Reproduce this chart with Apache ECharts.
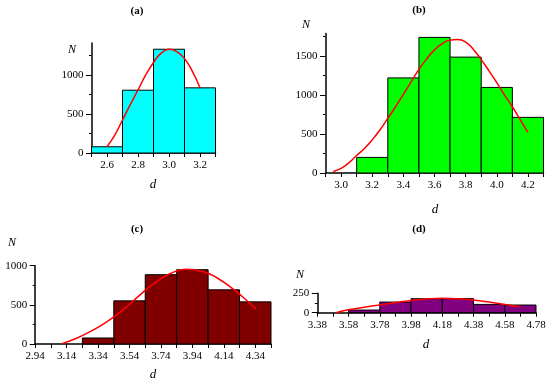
<!DOCTYPE html>
<html><head><meta charset="utf-8">
<script src="https://cdn.jsdelivr.net/npm/echarts@6/dist/echarts.min.js"></script>
<style>html,body{margin:0;padding:0;background:#fff}#c{width:550px;height:385px}</style>
</head><body><div id="c"></div>
<script>
// ---- data ----
const aEdges = [2.5, 2.7, 2.9, 3.1, 3.3];
const aCounts = [80, 805, 1330, 835];
const aCurveX = [2.6, 2.65, 2.7, 2.75, 2.8, 2.85, 2.9, 2.95, 3.0, 3.05, 3.1, 3.15, 3.2];
const aCurveY = [81, 230, 423, 620, 808, 1000, 1160, 1280, 1330, 1300, 1210, 1050, 837];

const bEdges = [3.1, 3.3, 3.5, 3.7, 3.9, 4.1, 4.3];
const bCounts = [200, 1220, 1740, 1487, 1098, 714];
const bCurveX = [2.95, 3.0, 3.05, 3.1, 3.15, 3.2, 3.25, 3.3, 3.35, 3.4, 3.45, 3.5, 3.55, 3.6, 3.65, 3.7, 3.75, 3.8, 3.85, 3.9, 3.95, 4.0, 4.05, 4.1, 4.15, 4.2];
const bCurveY = [20, 60, 130, 225, 315, 425, 555, 700, 850, 1010, 1170, 1330, 1465, 1580, 1660, 1705, 1712, 1680, 1585, 1455, 1310, 1160, 1000, 850, 685, 520];

const cEdges = [3.24, 3.44, 3.64, 3.84, 4.04, 4.24, 4.44];
const cCounts = [77, 551, 885, 949, 692, 538];
const cCurveX = [3.11, 3.2, 3.3, 3.4, 3.5, 3.6, 3.7, 3.8, 3.9, 4.0, 4.1, 4.2, 4.3, 4.346];
const cCurveY = [5, 70, 170, 290, 440, 615, 780, 900, 955, 930, 840, 700, 530, 445];

const dEdges = [3.58, 3.78, 3.98, 4.18, 4.38, 4.58, 4.78];
const dCounts = [34, 137, 180, 181, 107, 99];
const dCurveX = [3.5, 3.58, 3.68, 3.78, 3.88, 3.98, 4.08, 4.18, 4.28, 4.38, 4.48, 4.58, 4.68];
const dCurveY = [0, 39, 70, 100, 130, 158, 178, 186, 180, 163, 137, 107, 77];

// tick labels
const aXLabels = [2.6, 2.8, 3.0, 3.2];
const aXTicks = [2.5, 2.6, 2.7, 2.8, 2.9, 3.0, 3.1, 3.2, 3.3];
const aYLabels = [0, 500, 1000];
const aYMinor = [250, 750, 1250];

const bXLabels = [3.0, 3.2, 3.4, 3.6, 3.8, 4.0, 4.2];
const bXTicks = [2.9, 3.0, 3.1, 3.2, 3.3, 3.4, 3.5, 3.6, 3.7, 3.8, 3.9, 4.0, 4.1, 4.2, 4.3];
const bYLabels = [0, 500, 1000, 1500];
const bYMinor = [250, 750, 1250, 1750];

const cXLabels = [2.94, 3.14, 3.34, 3.54, 3.74, 3.94, 4.14, 4.34];
const cXTicks = [2.94, 3.04, 3.14, 3.24, 3.34, 3.44, 3.54, 3.64, 3.74, 3.84, 3.94, 4.04, 4.14, 4.24, 4.34, 4.44];
const cYLabels = [0, 500, 1000];
const cYMinor = [250, 750];

const dXLabels = [3.38, 3.58, 3.78, 3.98, 4.18, 4.38, 4.58, 4.78];
const dXTicks = [3.38, 3.48, 3.58, 3.68, 3.78, 3.88, 3.98, 4.08, 4.18, 4.28, 4.38, 4.48, 4.58, 4.68, 4.78];
const dYLabels = [0, 250];
const dYMinor = [125];

// ---- chart ----
const FONT = 'Liberation Serif';
const panels = [
  {edges: aEdges, counts: aCounts, cx: aCurveX, cy: aCurveY, xl: aXLabels, xt: aXTicks, yl: aYLabels, ym: aYMinor,
   xmin: 2.5, xmax: 3.3, ymax: 1410, dec: 1, color: '#00FFFF',
   grid: {left: 91.5, top: 43, width: 124, height: 110}},
  {edges: bEdges, counts: bCounts, cx: bCurveX, cy: bCurveY, xl: bXLabels, xt: bXTicks, yl: bYLabels, ym: bYMinor,
   xmin: 2.9, xmax: 4.3, ymax: 1790, dec: 1, color: '#00FF00',
   grid: {left: 325.5, top: 33.5, width: 218, height: 139.5}},
  {edges: cEdges, counts: cCounts, cx: cCurveX, cy: cCurveY, xl: cXLabels, xt: cXTicks, yl: cYLabels, ym: cYMinor,
   xmin: 2.94, xmax: 4.44, ymax: 1000, dec: 2, color: '#800000',
   grid: {left: 35.2, top: 265.7, width: 235.8, height: 78.3}},
  {edges: dEdges, counts: dCounts, cx: dCurveX, cy: dCurveY, xl: dXLabels, xt: dXTicks, yl: dYLabels, ym: dYMinor,
   xmin: 3.38, xmax: 4.78, ymax: 250, dec: 2, color: '#800080',
   grid: {left: 317.3, top: 293.3, width: 218.7, height: 19.4}}
];

const grids = [], xAxes = [], yAxes = [], series = [];
panels.forEach((p, i) => {
  grids.push(Object.assign({containLabel: false}, p.grid));
  xAxes.push({
    type: 'value', gridIndex: i, min: p.xmin, max: p.xmax, position: 'bottom',
    axisLine: {show: true, onZero: false, lineStyle: {color: '#000', width: 1.5}},
    axisTick: {show: true, customValues: p.xt, length: 4, lineStyle: {color: '#000', width: 1}},
    axisLabel: {show: true, customValues: p.xl, margin: 7, color: '#000', fontFamily: FONT, fontSize: 11,
      formatter: v => Number(v).toFixed(p.dec)},
    splitLine: {show: false}
  });
  yAxes.push({
    type: 'value', gridIndex: i, min: 0, max: p.ymax, position: 'left',
    axisLine: {show: true, onZero: false, lineStyle: {color: '#000', width: 1.5}},
    axisTick: {show: true, customValues: p.yl, length: 5.5, lineStyle: {color: '#000', width: 1}},
    axisLabel: {show: true, customValues: p.yl, margin: 8, color: '#000', fontFamily: FONT, fontSize: 11,
      formatter: v => String(v)},
    splitLine: {show: false}
  });
  yAxes.push({
    type: 'value', gridIndex: i, min: 0, max: p.ymax, position: 'left', offset: 0,
    axisLine: {show: false, onZero: false},
    axisTick: {show: true, customValues: p.ym, length: 2.5, lineStyle: {color: '#000', width: 1}},
    axisLabel: {show: false},
    splitLine: {show: false}
  });
  const bars = p.counts.map((c, k) => [p.edges[k], p.edges[k + 1], c]);
  series.push({
    type: 'custom', xAxisIndex: i, yAxisIndex: 2 * i,
    data: bars, encode: {x: [0, 1], y: 2},
    renderItem: (params, api) => {
      const p0 = api.coord([api.value(0), api.value(2)]);
      const p1 = api.coord([api.value(1), 0]);
      return {type: 'rect', shape: {x: p0[0], y: p0[1], width: p1[0] - p0[0], height: p1[1] - p0[1]},
        style: {fill: p.color, stroke: '#000', lineWidth: 1}};
    },
    z: 2
  });
  series.push({
    type: 'line', xAxisIndex: i, yAxisIndex: 2 * i,
    data: p.cx.map((x, k) => [x, p.cy[k]]),
    smooth: 0.5, symbol: 'none', showSymbol: false,
    lineStyle: {color: '#FF0000', width: 1.5}, z: 3, animation: false
  });
});

const txt = (x, y, s, opts) => ({type: 'text', x: x, y: y, style: Object.assign({
  text: s, fill: '#000', font: '11px "' + FONT + '"', textAlign: 'center', textVerticalAlign: 'middle'}, opts || {})});
const graphics = [
  txt(137, 11, '(a)', {font: 'bold 11px "' + FONT + '"'}),
  txt(419, 10, '(b)', {font: 'bold 11px "' + FONT + '"'}),
  txt(137, 229, '(c)', {font: 'bold 11px "' + FONT + '"'}),
  txt(419, 229, '(d)', {font: 'bold 11px "' + FONT + '"'}),
  txt(72, 50, 'N', {font: 'italic 12px "' + FONT + '"'}),
  txt(306, 25, 'N', {font: 'italic 12px "' + FONT + '"'}),
  txt(12, 243, 'N', {font: 'italic 12px "' + FONT + '"'}),
  txt(300, 275, 'N', {font: 'italic 12px "' + FONT + '"'}),
  txt(153, 185, 'd', {font: 'italic 13px "' + FONT + '"'}),
  txt(435, 210, 'd', {font: 'italic 13px "' + FONT + '"'}),
  txt(153, 375, 'd', {font: 'italic 13px "' + FONT + '"'}),
  txt(426, 345, 'd', {font: 'italic 13px "' + FONT + '"'})
];

const chart = echarts.init(document.getElementById('c'), null, {renderer: 'canvas'});
chart.setOption({
  animation: false,
  backgroundColor: '#fff',
  grid: grids, xAxis: xAxes, yAxis: yAxes, series: series,
  graphic: graphics
});
</script></body></html>
